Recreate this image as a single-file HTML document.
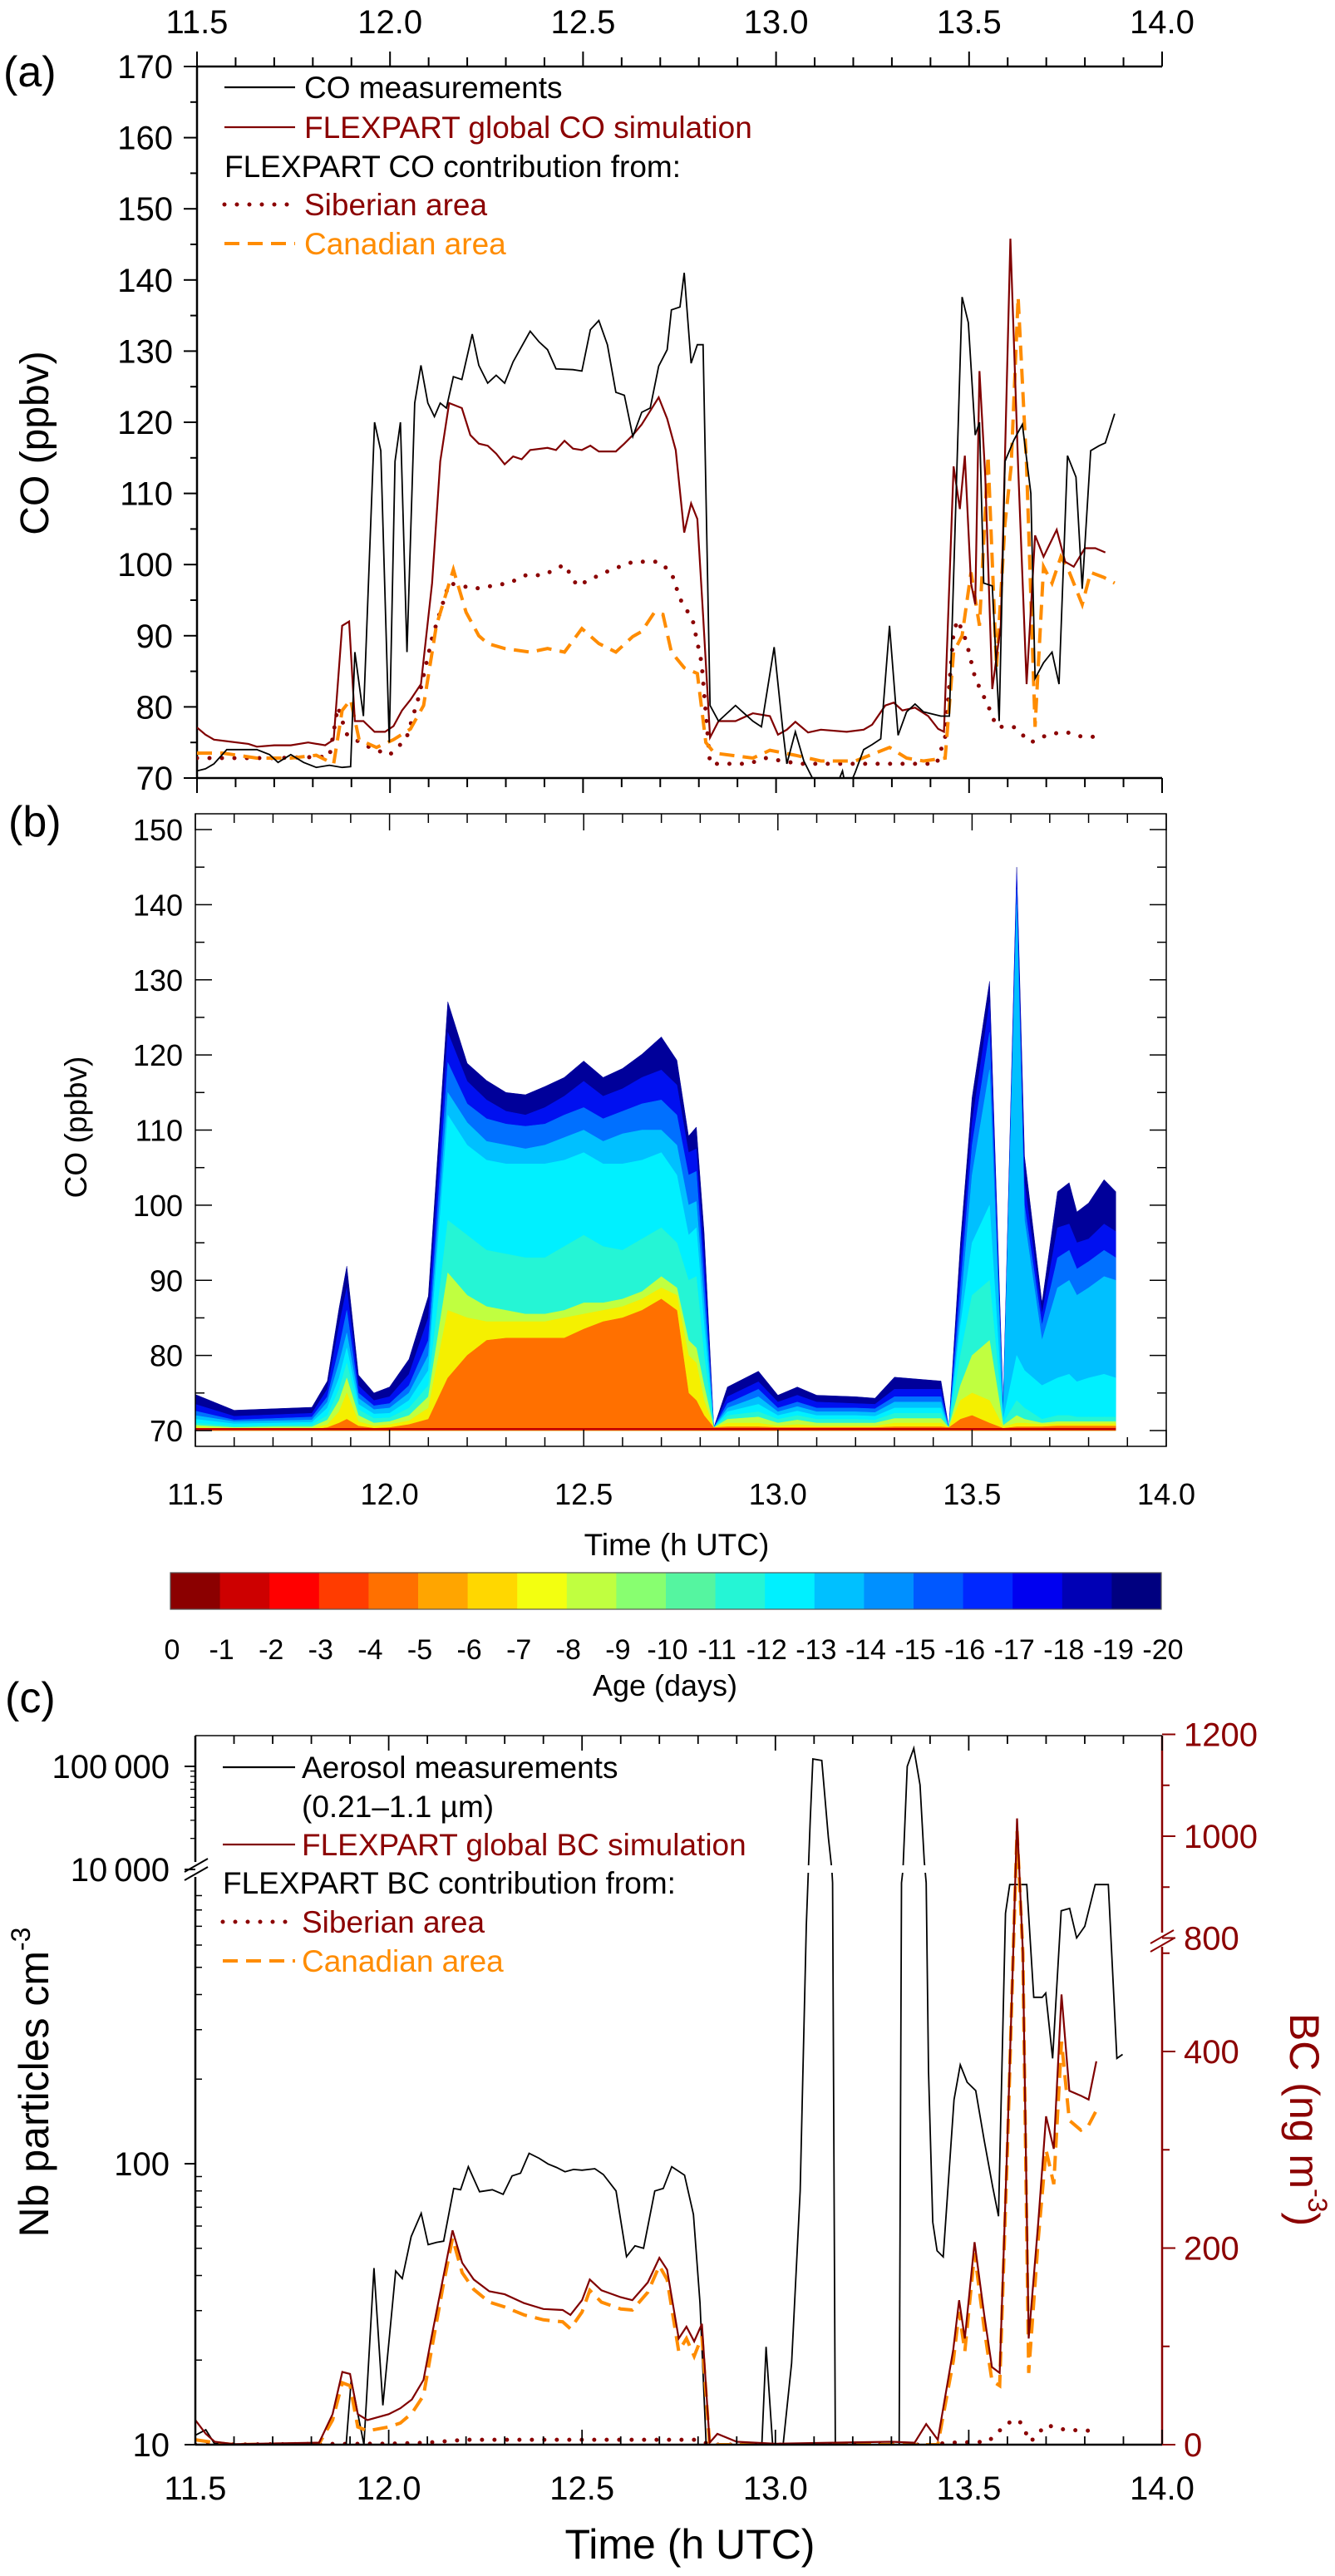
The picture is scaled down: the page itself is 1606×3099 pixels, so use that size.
<!DOCTYPE html>
<html><head><meta charset="utf-8"><title>CO and BC FLEXPART</title>
<style>
html,body{margin:0;padding:0;background:#fff;}
svg{display:block;}
text{font-family:"Liberation Sans Narrow","Liberation Sans",sans-serif;}
</style></head>
<body>
<svg id="fig" xmlns="http://www.w3.org/2000/svg" width="1606" height="3099" viewBox="0 0 1606 3099">
<defs>
<clipPath id="clipA"><rect x="237" y="80" width="1161" height="856"/></clipPath>
<clipPath id="clipB"><rect x="235" y="979" width="1168" height="761"/></clipPath>
<clipPath id="clipC"><rect x="235" y="2088" width="1163" height="853"/></clipPath>
</defs>
</svg>
<script>
// ---------- Panel (a) data ----------
const aMeasT=[11.5,11.522,11.544,11.577,11.655,11.688,11.71,11.743,11.776,11.809,11.843,11.876,11.898,11.909,11.931,11.96,11.976,11.998,12.013,12.027,12.044,12.064,12.08,12.098,12.115,12.13,12.146,12.164,12.186,12.213,12.23,12.253,12.275,12.297,12.319,12.363,12.386,12.408,12.43,12.474,12.497,12.519,12.541,12.563,12.585,12.607,12.629,12.652,12.674,12.696,12.718,12.729,12.751,12.762,12.78,12.796,12.811,12.829,12.851,12.873,12.895,12.917,12.94,12.962,12.995,13.017,13.028,13.05,13.072,13.094,13.116,13.15,13.172,13.183,13.205,13.227,13.249,13.271,13.294,13.316,13.338,13.36,13.382,13.405,13.427,13.449,13.482,13.498,13.516,13.527,13.538,13.56,13.578,13.593,13.616,13.638,13.66,13.671,13.693,13.715,13.733,13.755,13.777,13.793,13.815,13.837,13.853,13.877];
const aMeasV=[71,71.3,72,74,74,73.3,72.2,73.3,72.2,71.5,71.8,71.5,71.6,87.7,78.7,120,116,75,114.5,120,87.7,122.7,128,122.7,120.8,122.7,122,126.4,126,132.4,128,125.5,126.6,125.5,128.5,132.8,131.3,130.2,127.5,127.4,127.2,133,134.3,130.9,124.2,123.8,118,121.4,122,127.9,130.2,135.8,136.2,141,128.3,130.9,130.9,80.2,78,79.1,80.2,79.1,78,77.2,88.4,77,72,76.5,72.4,70,68,68,71,68,70.8,74,74.7,75.5,91.4,76,79.3,80.4,79.3,79,78.7,78.7,137.6,134,118.2,120,97.4,97,78,114.5,117.5,119.7,110,84,86.2,87.7,83.2,115.3,112.3,96.6,116,116.7,117.1,121.2];
const aGlobT=[11.5,11.522,11.544,11.633,11.655,11.7,11.743,11.788,11.832,11.854,11.876,11.894,11.909,11.931,11.96,11.987,12.009,12.031,12.053,12.08,12.109,12.13,12.153,12.186,12.208,12.23,12.253,12.275,12.297,12.319,12.341,12.363,12.408,12.43,12.452,12.474,12.497,12.519,12.541,12.585,12.607,12.629,12.652,12.674,12.696,12.718,12.74,12.762,12.78,12.796,12.811,12.829,12.851,12.895,12.94,12.984,13.005,13.028,13.05,13.083,13.116,13.183,13.227,13.249,13.283,13.305,13.327,13.36,13.394,13.42,13.435,13.46,13.476,13.489,13.505,13.516,13.527,13.542,13.56,13.582,13.607,13.627,13.649,13.671,13.693,13.727,13.749,13.771,13.8,13.827,13.853];
const aGlobV=[77.1,76.1,75.4,74.8,74.4,74.6,74.6,75,74.6,75.4,91.4,92,78,78,76.5,76.5,77.3,79.5,81,83.2,97.4,114.5,122.7,122,118.2,117,116.7,115.6,114.1,115.2,114.8,116.1,116.4,116.1,117.4,116.3,116.1,116.7,115.9,115.9,117,118.2,119.7,121.6,123.5,120.5,116.1,104.5,108.6,106.4,92.9,75.7,78,78,79.1,78.7,76.1,76.8,77.9,76.4,76.8,76.5,76.8,77.5,80.2,80.6,79.5,79.9,78.7,76.9,76.5,113.8,107.8,115.3,97.4,94.4,127.2,112.3,82.5,91.4,145.8,113.8,83.2,104.1,101.1,104.9,100.4,99.7,102.3,102.3,101.7];
const aSibT=[11.5,11.7,11.843,11.865,11.887,11.931,11.998,12.042,12.075,12.109,12.153,12.219,12.308,12.352,12.397,12.452,12.485,12.53,12.574,12.63,12.696,12.729,12.751,12.784,12.807,12.829,12.862,12.928,12.973,13.06,13.194,13.305,13.416,13.438,13.46,13.471,13.493,13.516,13.549,13.571,13.615,13.66,13.704,13.749,13.793,13.849];
const aSibV=[72.8,72.8,73,80,76.2,74.7,73.2,75.5,81.5,89.7,97.4,96.6,97.4,98.5,98.5,100,97,98.2,99.3,100.4,100.4,98.9,95.2,92.2,86.2,72,72,72,72.8,72,72,72,72,75.8,90.6,92.2,89.2,84,80.2,77.2,77.2,75,76.1,76.5,75.8,75.8];
const aCanT=[11.5,11.566,11.655,11.743,11.809,11.854,11.876,11.898,11.92,11.965,12.009,12.053,12.087,12.12,12.164,12.197,12.23,12.253,12.297,12.363,12.408,12.452,12.497,12.541,12.585,12.629,12.652,12.685,12.707,12.729,12.762,12.796,12.818,12.84,12.94,12.984,13.05,13.116,13.205,13.294,13.338,13.382,13.438,13.46,13.482,13.505,13.527,13.549,13.571,13.593,13.609,13.627,13.649,13.671,13.693,13.715,13.738,13.76,13.793,13.815,13.849,13.877];
const aCanV=[73.5,73.5,72.8,72.8,73.2,72,79.5,81,75.4,74.3,75.4,76.9,80.2,91.4,99.3,93.3,90,88.9,88.2,87.7,88.2,87.7,91,88.9,87.7,89.9,90.6,93.3,93,87.7,85.5,84.7,75,73.5,72.8,73.9,73.2,72.4,72.4,74.3,72.8,72.4,72.8,87.7,90,98.9,91.4,115.3,85.5,105.7,113.8,137.6,113.8,77.2,99.7,97.4,101.1,98.9,94.4,98.9,98.2,97.4];
const aYTicks=[70,80,90,100,110,120,130,140,150,160,170];
const xTickLabels=["11.5","12.0","12.5","13.0","13.5","14.0"];

// ---------- Panel (b) data (cumulative layer tops, ppbv) ----------
const bT=[11.5,11.6,11.7,11.8,11.84,11.87,11.89,11.92,11.96,12.0,12.05,12.1,12.15,12.2,12.25,12.3,12.35,12.4,12.45,12.5,12.55,12.6,12.65,12.7,12.74,12.77,12.79,12.81,12.835,12.87,12.95,13.0,13.05,13.1,13.2,13.25,13.3,13.42,13.44,13.47,13.5,13.545,13.58,13.615,13.635,13.68,13.72,13.75,13.77,13.8,13.84,13.87];
const bTotal=[74.8,72.7,72.9,73.1,76.6,86.3,91.9,77.4,75,75.8,79.5,87.9,127.1,118.9,116.6,115,114.7,115.8,117,119.2,117,118.2,120.1,122.4,119.3,109.2,110.4,96.4,70.4,75.8,77.9,74.7,75.8,74.7,74.5,74.3,77.1,76.6,70.4,95,114.3,129.8,73.5,145,106.5,87,101.8,103,99.1,100.3,103.4,101.8];
const bBlue=[73.5,71.9,72.1,72.3,75.5,84,89,76,74,74.5,77.5,85,123,116.5,114,112.5,112,113,114.5,116.5,114.5,115.5,117,118,116,107,107.5,93,70.4,74.5,76.5,73.8,74.7,73.8,73.6,73.5,75.5,75.5,70.4,92,111,127,72.8,144,103,85.5,97,97.5,95,95.5,97.5,96.5];
const bDodger=[72.6,71.4,71.6,71.8,74.5,81,86,75,73.3,73.6,76,82,119,113.5,111.5,110.8,110.5,110.8,112,113,111.5,112.5,113.5,114,112,104,104.5,90,70.4,73.6,75.5,73,73.8,73,73,72.9,74.5,74.5,70.4,89,108,123,72.2,142,100,84,93,94,91.5,92.5,94,93];
const bLightBlue=[72,71.2,71.3,71.4,73.8,79,83,74.3,72.8,73,75,80,115,111,108.5,108,107.5,108,109,110,108.5,109.5,110,110,108,100,100.5,87,70.4,73,74.5,72.5,73.2,72.5,72.5,72.4,73.8,73.8,70.4,86,104,118,71.8,140,98,82,89,90,88,89,90.5,90];
const bCyan=[71.5,70.9,71,71.1,73,77,81,73.5,72.2,72.3,74,78,112,108,106,105.5,105.5,105.5,106,107,105.5,105.5,106,107,104,96,97,84,70.4,72.5,73.5,72,72.6,72,72,71.9,73,73,70.4,84,95,100,71.4,80,78,76,77,77.5,76.5,77,77.5,77];
const bAqua=[71,70.6,70.7,70.8,72,75.5,79,72.8,71.6,71.7,73,76,98,96,94,93.5,93,93,94.5,96,94.5,94,95.5,97,95,90,90.5,80,70.4,72,72.5,71.5,72,71.5,71.5,71.4,72.3,72.3,70.4,80,88,90,71,74,73,71.5,72,72,71.8,71.8,71.8,71.8];
const bGreen=[70.7,70.4,70.5,70.5,71.4,74,77,72,71,71.2,72,74.5,91,88,86.5,86,85.5,85.5,86,87,87,87.5,88.5,90.5,89,82,81,76,70.4,71.5,71.8,71,71.4,71,71,71,71.6,71.6,70.4,76,80,82,70.7,72,71.5,71,71.2,71.2,71.2,71.2,71.2,71.2];
const bYellow=[70.4,70.2,70.3,70.3,70.8,72.5,75,71.2,70.6,70.8,71.3,73,86,85,84.5,84.5,84.5,84.5,85,85.5,86,86.5,87.5,89,88,80,79,74,70.4,71,71,70.6,70.8,70.6,70.6,70.6,71,71,70.4,74,75,74,70.5,71,71,70.8,70.9,70.9,70.9,70.9,70.9,70.9];
const bOrange=[70.3,70.1,70.1,70.1,70.4,71,71.5,70.6,70.3,70.4,70.8,71.5,77,80,82,82.3,82.3,82.3,82.3,83.5,84.5,85,86,87.5,86,75,74,72,70.4,70.5,70.5,70.4,70.4,70.4,70.4,70.4,70.5,70.5,70.4,71.5,72,71,70.3,70.5,70.5,70.5,70.6,70.6,70.6,70.6,70.6,70.6];
const bYTicks=[70,80,90,100,110,120,130,140,150];
const ageLabels=["0","-1","-2","-3","-4","-5","-6","-7","-8","-9","-10","-11","-12","-13","-14","-15","-16","-17","-18","-19","-20"];
const ageColors=["#8b0000","#cd0000","#ff0000","#ff3c00","#ff7000","#ffa500","#ffd700","#f3ff10","#c0ff40","#88ff70","#55f5a0","#25f5d5","#00f0ff","#00c0ff","#0090ff","#0058ff","#0028ff","#0000f0","#0000b5","#000080"];

// ---------- Panel (c) data ----------
const cMeasT=[11.5,11.527,11.549,11.6,11.89,11.903,11.936,11.962,11.985,12.018,12.035,12.058,12.084,12.102,12.124,12.142,12.168,12.186,12.206,12.235,12.268,12.296,12.319,12.341,12.363,12.389,12.412,12.434,12.456,12.478,12.5,12.533,12.555,12.588,12.615,12.637,12.659,12.688,12.71,12.732,12.765,12.788,12.805,12.821,12.965,12.976,12.993,13.02,13.042,13.064,13.08,13.09,13.097,13.12,13.137,13.146,13.148,13.155,13.32,13.326,13.33,13.341,13.358,13.374,13.385,13.39,13.396,13.407,13.418,13.434,13.462,13.478,13.496,13.518,13.54,13.562,13.577,13.595,13.606,13.628,13.65,13.668,13.69,13.699,13.717,13.739,13.761,13.779,13.8,13.827,13.854,13.861,13.883,13.898];
const cMeasV=[10.8,11.3,10.1,10,10,17,10,42.5,13.8,41.5,39,55,66.6,51.5,52.5,53,81.6,80.8,97.6,79.5,80.8,77.8,90.5,92.5,108.9,104.5,99.8,97,93.6,95.4,94.8,96,91.5,80,46.7,51,50,80,81.6,97.6,91,66,31.9,10,10,22.3,10,10,19.5,80,706,30000,118000,114000,20500,10000,1000,10,10,1000,10000,100000,150000,66000,12000,1000,214,62,49,46.6,169,225,195,182,121,82.7,65,778,985,985,985,391,391,405,237,795,810,636,700,985,985,985,237,245];
const cGlobT=[11.5,11.527,11.55,11.6,11.82,11.855,11.88,11.9,11.92,11.945,12.0,12.03,12.06,12.09,12.11,12.14,12.165,12.19,12.22,12.26,12.3,12.35,12.4,12.45,12.47,12.5,12.52,12.55,12.6,12.63,12.67,12.7,12.72,12.75,12.77,12.79,12.81,12.83,12.85,12.9,13.0,13.15,13.3,13.36,13.39,13.42,13.46,13.475,13.49,13.515,13.54,13.56,13.58,13.6,13.615,13.625,13.64,13.655,13.68,13.7,13.72,13.74,13.76,13.79,13.81,13.83];
const cGlobV=[25,11,3,0.5,2,31,74,72,31,25,31,37,46,66,108,168,218,185,168,156,153,144,138,137,132,147,168,157,150,147,165,190,178,108,120,105,123,2,11,3,1,2,3,2,21,5,97,147,108,206,132,79,73,310,520,1035,520,108,227,334,301,458,360,355,351,390];
const cCanT=[11.5,11.55,11.6,11.82,11.855,11.88,11.9,11.92,11.945,12.0,12.03,12.06,12.09,12.11,12.14,12.165,12.19,12.22,12.26,12.3,12.35,12.4,12.45,12.47,12.5,12.52,12.55,12.6,12.63,12.67,12.7,12.72,12.75,12.77,12.79,12.81,12.83,13.0,13.3,13.42,13.46,13.475,13.49,13.515,13.54,13.56,13.58,13.6,13.615,13.625,13.64,13.655,13.68,13.7,13.72,13.74,13.76,13.79,13.81,13.83];
const cCanV=[5,2,0,1,25,63,60,18,14,18,22,32,50,95,160,210,175,158,145,140,132,127,125,118,135,157,145,138,137,155,182,168,95,108,90,110,0,0,0,0,85,135,95,195,118,65,60,300,510,1010,500,73,210,300,265,410,330,320,325,340];
const cSibT=[11.5,12.0,12.1,12.2,12.3,12.5,12.8,12.83,13.4,13.45,13.55,13.6,13.63,13.66,13.7,13.75,13.83];
const cSibV=[0,1,2,5,5,5,5,0,0,2,3,22,25,3,20,15,14];
const cLeftTicks=["10","100","10\u2009000","100\u2009000"];
const cLeftVals=[10,100,10000,100000];
const cRightVals=[0,200,400,800,1000,1200];

const NS="http://www.w3.org/2000/svg";
const svg=document.getElementById('fig');
function el(tag,attrs,parent){const e=document.createElementNS(NS,tag);for(const k in attrs)e.setAttribute(k,attrs[k]);(parent||svg).appendChild(e);return e;}
function txt(s,attrs,parent){const e=el('text',attrs,parent);e.textContent=s;return e;}

const xa=t=>237+(t-11.5)*464.4, ya=v=>936-(v-70)*8.56;
const xb=t=>235+(t-11.5)*467.2, yb=v=>1721-(v-70)*9.0375;
const xc=t=>235+(t-11.5)*465.2;
function ycL(v){ if(v>=10000) return 2249-Math.log10(v/10000)*124; if(v<=1000) return 2941-Math.log10(Math.max(v,10)/10)*338; return 2265-(Math.log10(v/1000))*16; }
function ycR(v){ if(v<=500) return 2941-v*1.1825; if(v>=800) return 2331.5-(v-800)*0.6125; return 2349.75-(v-500)/300*18.25; }
function pathOf(T,V,fx,fy){return T.map((t,i)=>(i?'L':'M')+fx(t).toFixed(1)+' '+fy(V[i]).toFixed(1)).join(' ');}

// ================= Panel (a) =================
const gA=el('g',{});


txt('(a)',{x:4,y:104,'font-size':52,fill:'#000'},gA);
el('line',{x1:237,y1:80,x2:1398,y2:80,stroke:'#000','stroke-width':2.5},gA);
el('line',{x1:237,y1:936,x2:1398,y2:936,stroke:'#000','stroke-width':2.5},gA);
el('line',{x1:237,y1:80,x2:237,y2:936,stroke:'#000','stroke-width':2.5},gA);
for(let k=0;k<=25;k++){const t=11.5+k*0.1;const x=xa(t);const maj=k%5===0;
 el('line',{x1:x,y1:80,x2:x,y2:80-(maj?18:11),stroke:'#000','stroke-width':2},gA);
 el('line',{x1:x,y1:936,x2:x,y2:936+(maj?18:11),stroke:'#000','stroke-width':2},gA);}
xTickLabels.forEach((s,i)=>{const t=txt(s,{x:xa(11.5+i*0.5),y:40,'font-size':40,'text-anchor':'middle'},gA);
 });
aYTicks.forEach(v=>{el('line',{x1:221,y1:ya(v),x2:237,y2:ya(v),stroke:'#000','stroke-width':2},gA);
 el('line',{x1:229,y1:ya(v+5),x2:237,y2:ya(v+5),stroke:'#000','stroke-width':2},gA);
 const t=txt(String(v),{x:208,y:ya(v)+14,'font-size':40,'text-anchor':'end'},gA);
 });
const ytA=txt('CO (ppbv)',{x:0,y:0,'font-size':48,'font-family':'Liberation Sans, sans-serif',transform:'translate(58,533) rotate(-90)','text-anchor':'middle'},gA);

const clA=el('g',{'clip-path':'url(#clipA)'},gA);
const sA=el('path',{d:pathOf(aSibT,aSibV,xa,ya),fill:'none',stroke:'#8b0000','stroke-width':5,'stroke-linecap':'round','stroke-dasharray':'0 15'},clA);

const cA=el('path',{d:pathOf(aCanT,aCanV,xa,ya),fill:'none',stroke:'#ff8c00','stroke-width':4,'stroke-dasharray':'18 10'},clA);

const gLA=el('path',{d:pathOf(aGlobT,aGlobV,xa,ya),fill:'none',stroke:'#800000','stroke-width':2.2},clA);

const mA=el('path',{d:pathOf(aMeasT,aMeasV,xa,ya),fill:'none',stroke:'#000','stroke-width':1.8},clA);

const lgA=el('g',{},gA);


el('line',{x1:270,y1:105,x2:355,y2:105,stroke:'#000','stroke-width':2.2},lgA);
txt('CO measurements',{x:366,y:118,'font-size':37},lgA);
el('line',{x1:270,y1:153,x2:355,y2:153,stroke:'#800000','stroke-width':2.2},lgA);
txt('FLEXPART global CO simulation',{x:366,y:166,'font-size':37,fill:'#8b0000'},lgA);
txt('FLEXPART CO contribution from:',{x:270,y:213,'font-size':37},lgA);
el('line',{x1:270,y1:246,x2:355,y2:246,stroke:'#8b0000','stroke-width':5,'stroke-linecap':'round','stroke-dasharray':'0 15'},lgA);
txt('Siberian area',{x:366,y:259,'font-size':37,fill:'#8b0000'},lgA);
el('line',{x1:270,y1:293,x2:355,y2:293,stroke:'#ff8c00','stroke-width':4,'stroke-dasharray':'18 10'},lgA);
txt('Canadian area',{x:366,y:306,'font-size':37,fill:'#ff8c00'},lgA);

// ================= Panel (b) =================
const gB=el('g',{});


txt('(b)',{x:10,y:1006,'font-size':52},gB);
const clB=el('g',{'clip-path':'url(#clipB)'},gB);
const layers=[[bTotal,'#00009a','age-18-20'],[bBlue,'#0010f0','age-16-17'],[bDodger,'#0070ff','age-14-15'],[bLightBlue,'#00c0ff','age-13'],[bCyan,'#00f0ff','age-12'],[bAqua,'#25f5d5','age-9-11'],[bGreen,'#c0ff40','age-8'],[bYellow,'#f5f000','age-5-7'],[bOrange,'#ff7000','age-1-4']];
layers.forEach(L=>{const V=L[0];let d='M'+xb(bT[0])+' '+yb(70);
 bT.forEach((t,i)=>{d+=' L'+xb(t).toFixed(1)+' '+yb(V[i]).toFixed(1);});
 d+=' L'+xb(bT[bT.length-1])+' '+yb(70)+' Z';
 const p=el('path',{d:d,fill:L[1],stroke:L[1],'stroke-width':0.5},clB);
 });
const base=el('line',{x1:xb(11.5),y1:yb(70.2),x2:xb(13.87),y2:yb(70.2),stroke:'#c00000','stroke-width':2.5},clB);

el('rect',{x:235,y:979,width:1168,height:761,fill:'none',stroke:'#000','stroke-width':1.5},gB);
for(let k=0;k<=25;k++){const x=xb(11.5+k*0.1);const maj=k%5===0;const L=maj?20:11;
 el('line',{x1:x,y1:979,x2:x,y2:979+L,stroke:'#000','stroke-width':1.5},gB);
 el('line',{x1:x,y1:1740,x2:x,y2:1740-L,stroke:'#000','stroke-width':1.5},gB);}
xTickLabels.forEach((s,i)=>{txt(s,{x:xb(11.5+i*0.5),y:1810,'font-size':36,'text-anchor':'middle'},gB);});
for(let v=70;v<=150;v+=5){const y=yb(v);const maj=v%10===0;const L=maj?20:11;
 el('line',{x1:235,y1:y,x2:235+L,y2:y,stroke:'#000','stroke-width':1.5},gB);
 el('line',{x1:1403,y1:y,x2:1403-L,y2:y,stroke:'#000','stroke-width':1.5},gB);}
bYTicks.forEach(v=>{txt(String(v),{x:220,y:yb(v)+13,'font-size':36,'text-anchor':'end'},gB);});
txt('CO (ppbv)',{x:0,y:0,'font-size':37,'font-family':'Liberation Sans, sans-serif',transform:'translate(104,1356) rotate(-90)','text-anchor':'middle'},gB);
txt('Time (h UTC)',{x:814,y:1871,'font-size':37,'text-anchor':'middle'},gB);
const cb=el('g',{},gB);


const cbW=(1397-205)/ageColors.length;
ageColors.forEach((c,i)=>{const r=el('rect',{x:205+i*cbW,y:1892,width:cbW+0.5,height:44,fill:c},cb);
 });
el('rect',{x:205,y:1892,width:1192,height:44,fill:'none',stroke:'#555','stroke-width':1.2},cb);
ageLabels.forEach((s,i)=>{txt(s,{x:207+i*cbW,y:1996,'font-size':34,'text-anchor':'middle'},cb);});
txt('Age (days)',{x:800,y:2040,'font-size':36,'text-anchor':'middle'},gB);

// ================= Panel (c) =================
const gC=el('g',{});


txt('(c)',{x:6,y:2060,'font-size':52},gC);
const clC=el('g',{'clip-path':'url(#clipC)'},gC);
const sC=el('path',{d:pathOf(cSibT,cSibV,xc,ycR),fill:'none',stroke:'#8b0000','stroke-width':5,'stroke-linecap':'round','stroke-dasharray':'0 15'},clC);

const mC=el('path',{d:pathOf(cMeasT,cMeasV,xc,ycL),fill:'none',stroke:'#000','stroke-width':1.8},clC);

const cC=el('path',{d:pathOf(cCanT,cCanV,xc,ycR),fill:'none',stroke:'#ff8c00','stroke-width':4,'stroke-dasharray':'18 10'},clC);

const gLC=el('path',{d:pathOf(cGlobT,cGlobV,xc,ycR),fill:'none',stroke:'#800000','stroke-width':2.2},clC);

el('rect',{x:xc(13.0),y:2244,width:xc(13.45)-xc(13.0),height:9,fill:'#fff'},clC);
el('line',{x1:235,y1:2088,x2:1398,y2:2088,stroke:'#444','stroke-width':2},gC);
el('line',{x1:235,y1:2941,x2:1398,y2:2941,stroke:'#000','stroke-width':2.5},gC);
el('line',{x1:235,y1:2088,x2:235,y2:2240,stroke:'#000','stroke-width':2.5},gC);
el('line',{x1:235,y1:2258,x2:235,y2:2941,stroke:'#000','stroke-width':2.5},gC);
el('line',{x1:1398,y1:2088,x2:1398,y2:2325,stroke:'#8b0000','stroke-width':2.5},gC);
el('line',{x1:1398,y1:2342,x2:1398,y2:2941,stroke:'#8b0000','stroke-width':2.5},gC);
el('path',{d:'M222 2252 L250 2236 M222 2262 L250 2246',stroke:'#000','stroke-width':2,fill:'none'},gC);
el('path',{d:'M1384 2338 L1412 2322 M1384 2348 L1412 2332',stroke:'#8b0000','stroke-width':2,fill:'none'},gC);
for(let k=0;k<=25;k++){const x=xc(11.5+k*0.1);const maj=k%5===0;const L=maj?18:10;
 el('line',{x1:x,y1:2088,x2:x,y2:2088+L,stroke:'#000','stroke-width':1.8},gC);
 el('line',{x1:x,y1:2941,x2:x,y2:2941-L,stroke:'#000','stroke-width':1.8},gC);}
xTickLabels.forEach((s,i)=>{txt(s,{x:xc(11.5+i*0.5),y:3007,'font-size':40,'text-anchor':'middle'},gC);});
[10,100].forEach(b=>{for(let m=2;m<=9;m++){const y=ycL(b*m);el('line',{x1:235,y1:y,x2:243,y2:y,stroke:'#000','stroke-width':1.5},gC);}});
[10000].forEach(b=>{for(let m=2;m<=9;m++){const y=ycL(b*m);el('line',{x1:229,y1:y,x2:235,y2:y,stroke:'#000','stroke-width':1.3},gC);}});
cLeftVals.forEach((v,i)=>{const y=ycL(v);el('line',{x1:222,y1:y,x2:235,y2:y,stroke:'#000','stroke-width':2},gC);
 txt(cLeftTicks[i],{x:204,y:y+14,'font-size':40,'text-anchor':'end'},gC);});
for(let v=100;v<=1200;v+=100){if(v>500&&v<800)continue;const y=ycR(v);const maj=cRightVals.indexOf(v)>=0;
 el('line',{x1:1398,y1:y,x2:1398+(maj?16:9),y2:y,stroke:'#8b0000','stroke-width':2},gC);}
el('line',{x1:1398,y1:ycR(0),x2:1414,y2:ycR(0),stroke:'#8b0000','stroke-width':2},gC);
cRightVals.forEach(v=>{txt(String(v),{x:1424,y:ycR(v)+14,'font-size':40,fill:'#8b0000'},gC);});
const ylC=txt('',{x:0,y:0,'font-size':50,'font-family':'Liberation Sans, sans-serif',transform:'translate(58,2505) rotate(-90)','text-anchor':'middle'},gC);

ylC.innerHTML='Nb particles cm<tspan dy="-22" font-size="32">-3</tspan>';
const yrC=txt('',{x:0,y:0,'font-size':50,'font-family':'Liberation Sans, sans-serif',fill:'#8b0000',transform:'translate(1552,2550) rotate(90)','text-anchor':'middle'},gC);

yrC.innerHTML='BC (ng m<tspan dy="-22" font-size="32">-3</tspan><tspan dy="22">)</tspan>';
txt('Time (h UTC)',{x:830,y:3078,'font-size':50,'text-anchor':'middle'},gC);
const lgC=el('g',{},gC);


el('line',{x1:268,y1:2126,x2:355,y2:2126,stroke:'#000','stroke-width':2.2},lgC);
txt('Aerosol   measurements',{x:363,y:2139,'font-size':37},lgC);
txt('(0.21\u20131.1 \u00b5m)',{x:363,y:2186,'font-size':37},lgC);
el('line',{x1:268,y1:2219,x2:355,y2:2219,stroke:'#800000','stroke-width':2.2},lgC);
txt('FLEXPART global BC simulation',{x:363,y:2232,'font-size':37,fill:'#8b0000'},lgC);
txt('FLEXPART BC contribution from:',{x:268,y:2278,'font-size':37},lgC);
el('line',{x1:268,y1:2312,x2:355,y2:2312,stroke:'#8b0000','stroke-width':5,'stroke-linecap':'round','stroke-dasharray':'0 15'},lgC);
txt('Siberian area',{x:363,y:2325,'font-size':37,fill:'#8b0000'},lgC);
el('line',{x1:268,y1:2359,x2:355,y2:2359,stroke:'#ff8c00','stroke-width':4,'stroke-dasharray':'18 10'},lgC);
txt('Canadian area',{x:363,y:2372,'font-size':37,fill:'#ff8c00'},lgC);
</script>
</body></html>
